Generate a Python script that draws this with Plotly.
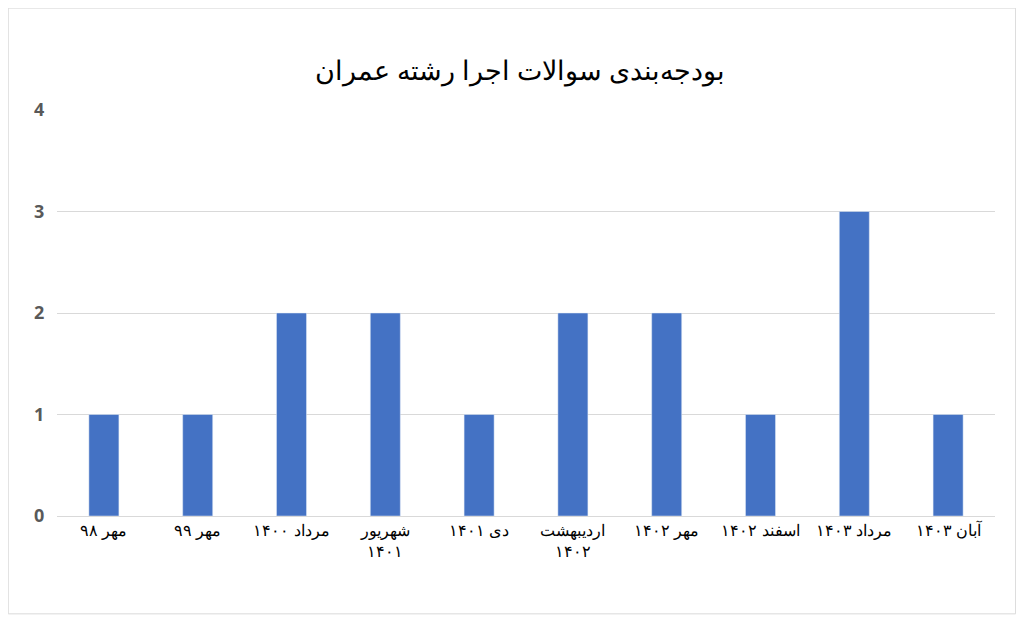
import plotly.graph_objects as go

categories = ["مهر ۹۸", "مهر ۹۹", "مرداد ۱۴۰۰", "شهریور<br>۱۴۰۱", "دی ۱۴۰۱",
              "اردیبهشت<br>۱۴۰۲", "مهر ۱۴۰۲", "اسفند ۱۴۰۲", "مرداد ۱۴۰۳", "آبان ۱۴۰۳"]
values = [1, 1, 2, 2, 1, 2, 2, 1, 3, 1]
y_ticks = [0, 1, 2, 3, 4]

fig = go.Figure(go.Bar(x=categories, y=values, marker_color="#4472C4", width=0.32))
fig.update_layout(
    width=1024, height=622, paper_bgcolor="white", plot_bgcolor="white",
    margin=dict(l=49, r=37, t=102, b=114),
    title=dict(text="بودجه‌بندی سوالات اجرا رشته عمران", x=0.5, y=0.915, xanchor="center",
               font=dict(family="Noto Sans", size=27, color="#000")),
    font=dict(family="Noto Sans", size=16, color="#000"),
    showlegend=False,
    xaxis=dict(showline=True, linecolor="#d9d9d9", tickfont=dict(size=16, color="#000")),
    yaxis=dict(range=[0, 4], tickvals=y_ticks, showgrid=True, gridcolor="#d9d9d9",
               zeroline=False, tickfont=dict(family="Noto Sans", size=18, color="#595959", weight="bold"),
               ticklen=8, ticks="outside", tickcolor="white"),
    shapes=[dict(type="rect", xref="paper", yref="paper", x0=-0.052, x1=1.022, y0=-0.241, y1=1.251,
                 line=dict(color="#d9d9d9", width=1))],
)
fig.write_html("out.html")
